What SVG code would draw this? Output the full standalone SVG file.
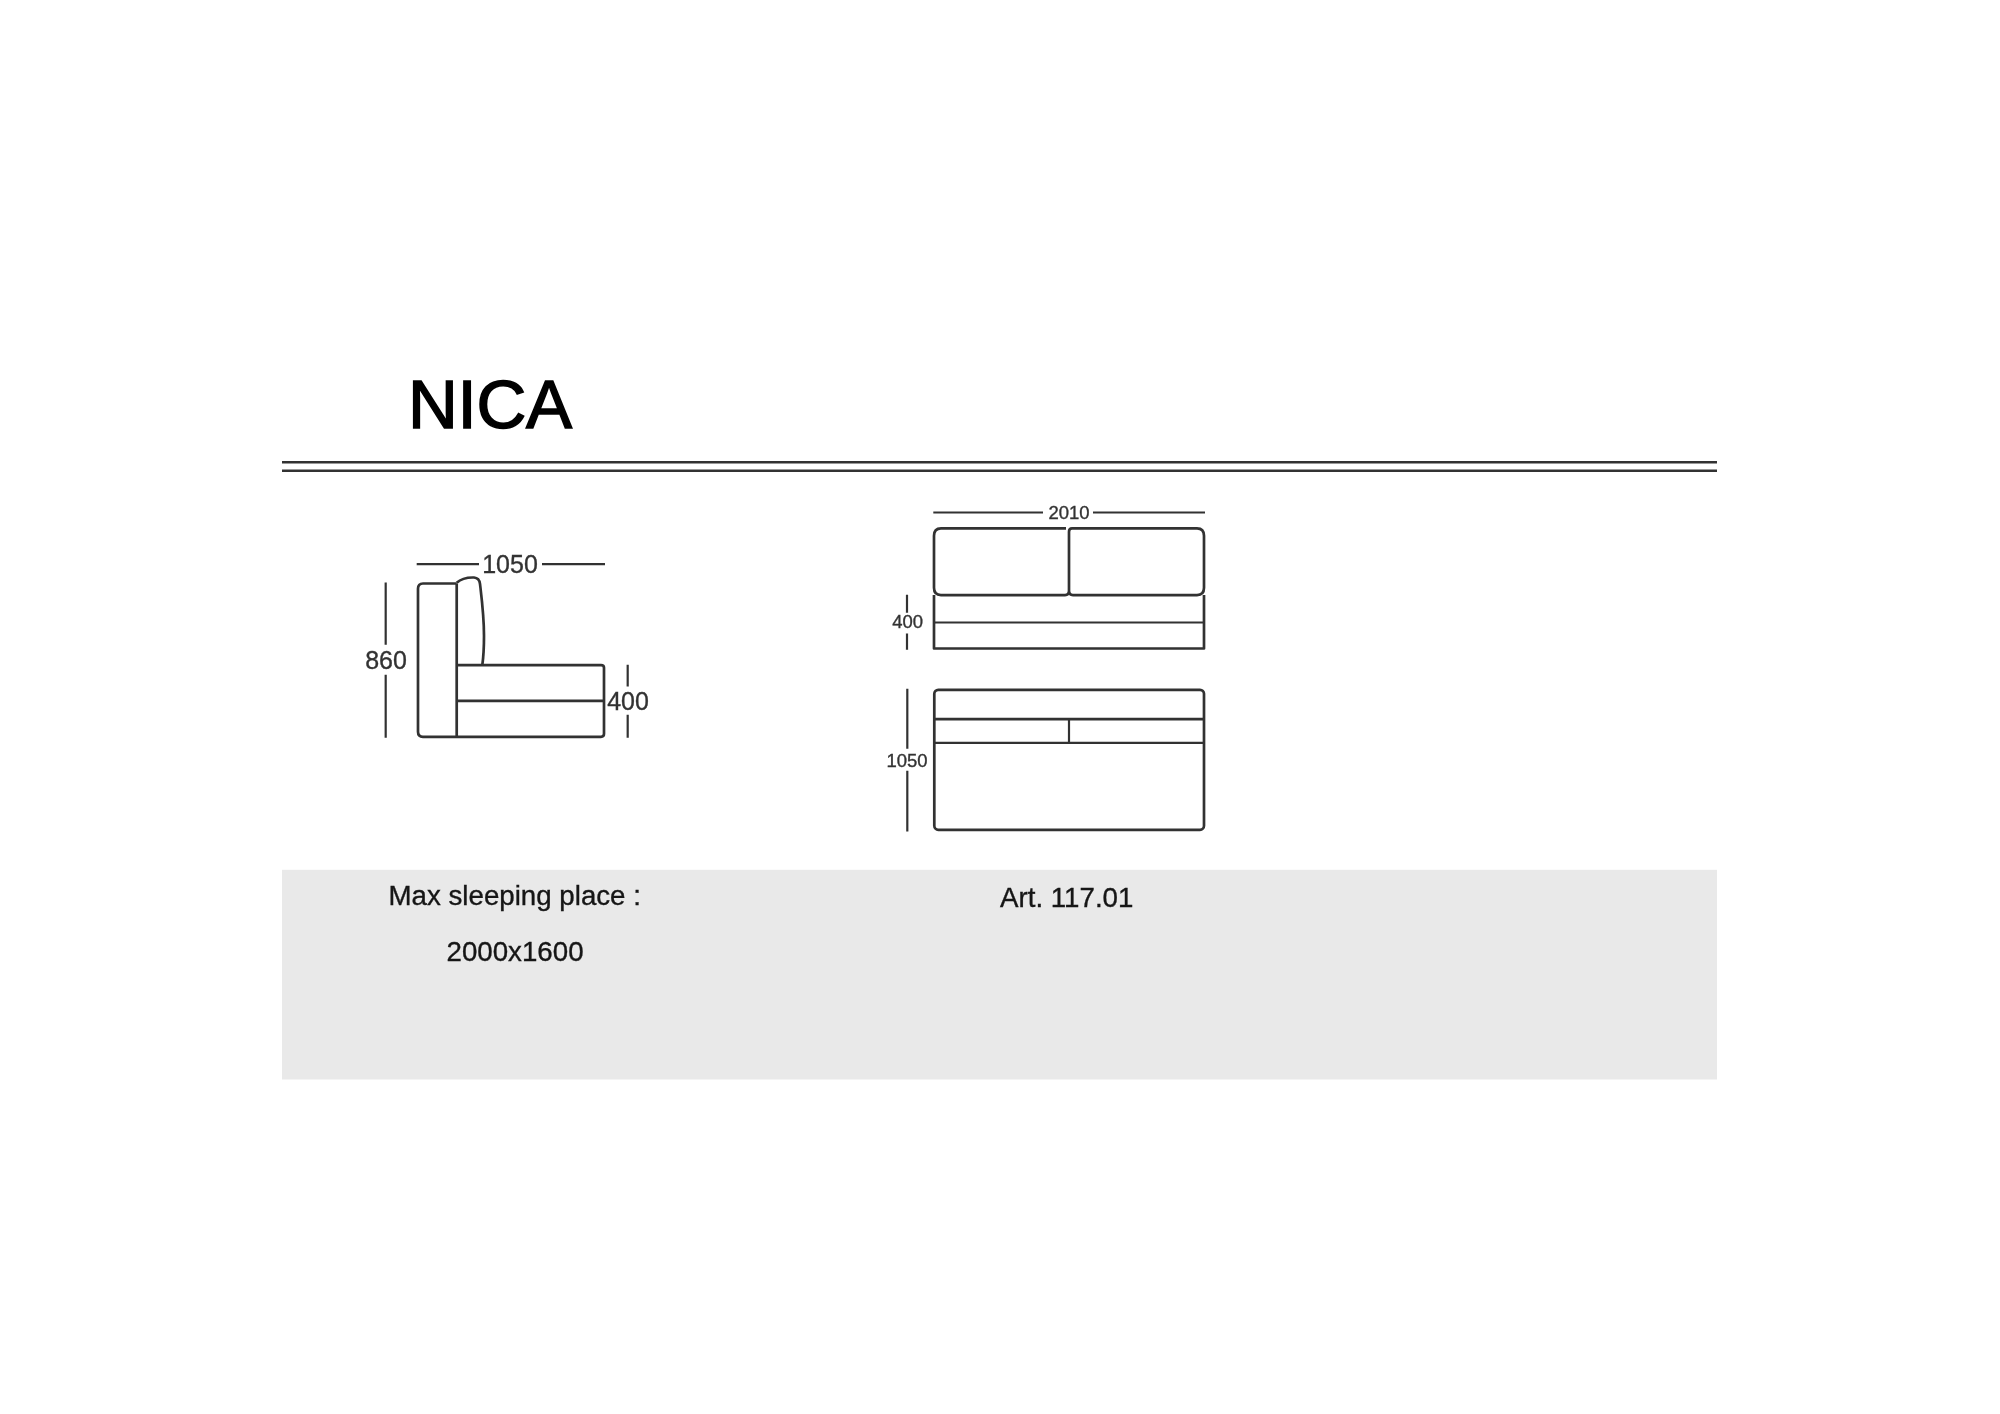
<svg xmlns="http://www.w3.org/2000/svg" width="2000" height="1414" viewBox="0 0 2000 1414">
<defs>
<filter id="soft" x="-5%" y="-5%" width="110%" height="110%"><feGaussianBlur stdDeviation="0.55"/></filter>
</defs>
<style>
text{font-family:"Liberation Sans",Arial,sans-serif;fill:#151515;stroke:#151515;stroke-width:.35}
.m{text-anchor:middle}
.d{font-size:25px;fill:#333;stroke:#333}
.s{font-size:18.5px;fill:#333;stroke:#333}
.b{font-size:27.7px}
.h{font-size:69px;fill:#000;stroke:#000;stroke-width:1.5;letter-spacing:-.3px}
.o{fill:none;stroke:#333;stroke-width:2.7;stroke-linejoin:round}
.t{fill:none;stroke:#333;stroke-width:2.2}
.r{fill:none;stroke:#333;stroke-width:2.6}
</style>
<rect width="2000" height="1414" fill="#fff"/>
<g filter="url(#soft)">
<g id="info-band-bg"><rect x="282" y="869.8" width="1435" height="209.7" fill="#e9e9e9"/></g>
<g transform="translate(0 0.8)">
<g id="title"><text class="h" x="408" y="427.3">NICA</text></g>
<g id="rules"><line class="r" x1="282" y1="461.5" x2="1717" y2="461.5"/><line class="r" x1="282" y1="470" x2="1717" y2="470"/></g>
<g id="info-band">
<text class="b" x="388.5" y="904.3">Max sleeping place :</text>
<text class="b" x="446.5" y="960.7">2000x1600</text>
<text class="b" x="1000" y="906">Art. 117.01</text></g>
<g id="side-view">
<path class="o" d="M456.7 582.7H423Q418 582.7 418 588V731Q418 736 423 736H601Q604 736 604 733V667Q604 664.3 601 664.3H456.7"/>
<path class="o" d="M456.7 582.7V736M456.7 700H604"/>
<path class="o" d="M456.7 582C461 578 468 576.5 474 576.7C478 577 479.5 579 480 583C482 600 484 615 484 635C484 648 483.5 656 482.3 664.3"/>
</g>
<g id="top-view">
<path class="o" d="M1066 527.5H941Q934 527.5 934 535V587Q934 594.3 941 594.3H1065Q1069 594.3 1069 590V531Q1069 527.5 1072 527.5H1197Q1204 527.5 1204 535V587Q1204 594.3 1197 594.3H1073Q1069 594.3 1069 590"/>
<path class="o" d="M934 594.3V647.7H1204V594.3"/>
<path class="t" d="M934 621.7H1204"/>
</g>
<g id="plan-view">
<rect class="o" x="934.3" y="689" width="269.7" height="140" rx="4"/>
<path class="o" d="M934.3 718.3H1204"/>
<path class="t" d="M934.3 742H1204M1069 718.3V742"/>
</g>
<g id="dimensions">
<path class="t" d="M416.7 563.3H479M542 563.3H605M385.7 581.7V644M385.7 674V737M627.7 664V685.7M627.7 714V737"/>
<path class="t" d="M933.3 511.7H1043M1093 511.7H1205M907 594V612M907 632.7V649M907.3 688V748M907.3 770V830.7"/>
<text class="d m" x="510" y="572.7">1050</text>
<text class="d m" x="386" y="668">860</text>
<text class="d m" x="628" y="709">400</text>
<text class="s m" x="1069" y="518">2010</text>
<text class="s m" x="907.7" y="627.7">400</text>
<text class="s m" x="907" y="766">1050</text>
</g>
</g>
</g>
</svg>
